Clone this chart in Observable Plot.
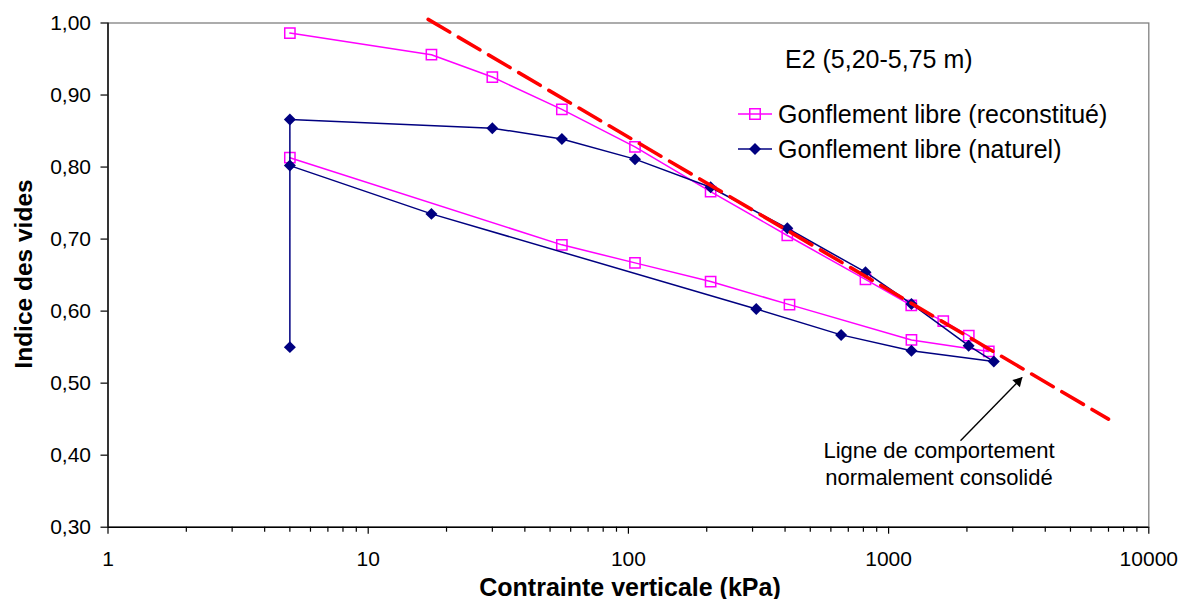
<!DOCTYPE html>
<html><head><meta charset="utf-8">
<script src="https://cdn.jsdelivr.net/npm/d3@7"></script>
<script src="https://cdn.jsdelivr.net/npm/@observablehq/plot@0.6"></script>
<style>html,body{margin:0;padding:0;background:#fff;} svg{display:block}</style>
</head><body><div id="chart"></div>
<script>
// ---- data ----
const reconX = [5, 17.5, 30, 55.5, 106, 207, 408, 815, 1222, 1622, 2033, 2427, 1224, 416, 207, 106, 55.5, 5];
const reconY = [0.986, 0.956, 0.925, 0.880, 0.828, 0.766, 0.705, 0.644, 0.608, 0.586, 0.566, 0.544, 0.560, 0.609, 0.641, 0.667, 0.692, 0.813];
const natX = [5, 5, 30, 55.5, 106, 207, 408, 815, 1224, 2030, 2537, 1224, 657, 310, 17.5, 5];
const natY = [0.550, 0.866, 0.854, 0.839, 0.811, 0.772, 0.715, 0.654, 0.610, 0.552, 0.530, 0.545, 0.567, 0.603, 0.735, 0.802];
const ncX = [17, 7000];
const ncY = [1.005, 0.450];
const arrowX = [1889, 3262];
const arrowY = [0.420, 0.508];
const xTicks = [1, 10, 100, 1000, 10000];
const xMinorTicks = [2,3,4,5,6,7,8,9,20,30,40,50,60,70,80,90,200,300,400,500,600,700,800,900,2000,3000,4000,5000,6000,7000,8000,9000];
const yTicks = [0.30, 0.40, 0.50, 0.60, 0.70, 0.80, 0.90, 1.00];
const seriesNames = ["Gonflement libre (reconstitué)", "Gonflement libre (naturel)"];
const seriesColors = ["#FF00FF", "#000080"];
const sampleLabel = "E2 (5,20-5,75 m)";
const noteLines = ["Ligne de comportement", "normalement consolidé"];
const xTitle = "Contrainte verticale (kPa)";
const yTitle = "Indice des vides";

const recon = reconX.map((x, i) => ({x, y: reconY[i]}));
const nat = natX.map((x, i) => ({x, y: natY[i]}));
const nc = ncX.map((x, i) => ({x, y: ncY[i]}));
const arrow = [{x1: arrowX[0], y1: arrowY[0], x2: arrowX[1], y2: arrowY[1]}];

const font = "'Liberation Sans', Arial, Helvetica, sans-serif";
const W = 1181, H = 599, mL = 107.5, mR = 32.7, mT = 22.5, mB = 72.3;

const chart = Plot.plot({
  width: W, height: H,
  marginLeft: mL, marginRight: mR, marginTop: mT, marginBottom: mB,
  style: {fontFamily: font, fontSize: "21px", background: "#fff", color: "#000", overflow: "visible"},
  x: {type: "log", domain: [1, 10000]},
  y: {domain: [0.30, 1.00]},
  marks: [
    Plot.frame({stroke: "#808080", strokeWidth: 1.3}),
    Plot.axisX(xMinorTicks, {tickSize: 5, tickFormat: () => "", label: null, strokeWidth: 1.2}),
    Plot.axisX(xTicks, {tickSize: 7, tickPadding: 17, tickFormat: d => String(d), label: null, fontSize: 21, strokeWidth: 1.2}),
    Plot.axisY(yTicks, {tickSize: 7, tickPadding: 10, tickFormat: d => d.toFixed(2).replace(".", ","), label: null, fontSize: 21, strokeWidth: 1.2}),
    Plot.ruleX([1], {stroke: "#000", strokeWidth: 1.4}),
    Plot.ruleY([0.30], {stroke: "#000", strokeWidth: 1.4}),
    Plot.line(recon, {x: "x", y: "y", stroke: seriesColors[0], strokeWidth: 1.5}),
    Plot.dot(recon, {x: "x", y: "y", symbol: "square", r: 5.8, stroke: seriesColors[0], strokeWidth: 1.5, fill: "none"}),
    Plot.line(nat, {x: "x", y: "y", stroke: seriesColors[1], strokeWidth: 1.5}),
    Plot.dot(nat, {x: "x", y: "y", symbol: "diamond2", r: 5.4, fill: seriesColors[1], stroke: "none"}),
    Plot.line(nc, {x: "x", y: "y", stroke: "#FF0000", strokeWidth: 3.6, strokeDasharray: "25,10", clip: false}),
    Plot.link(arrow, {x1: "x1", y1: "y1", x2: "x2", y2: "y2", stroke: "#000", strokeWidth: 1.4}),
    Plot.dot(arrow, {x: "x2", y: "y2", symbol: "triangle", r: 3.9, fill: "#000", stroke: "none", rotate: 44, dx: -4, dy: 4.1})
  ]
});
document.getElementById("chart").appendChild(chart);

// ---- legend, annotation and titles (pixel layout) ----
const svg = d3.select(chart);
const g = svg.append("g").attr("font-family", font).attr("fill", "#000").attr("text-anchor", "start");

g.append("text").attr("x", 785).attr("y", 68.3).attr("font-size", 25).attr("text-anchor", "start").text(sampleLabel);

const legendY = [114, 149];
seriesNames.forEach((name, i) => {
  g.append("line").attr("x1", 738).attr("x2", 772).attr("y1", legendY[i]).attr("y2", legendY[i])
    .attr("stroke", seriesColors[i]).attr("stroke-width", 1.5);
  const sym = i === 0 ? d3.symbol(d3.symbolSquare, 110) : d3.symbol(d3.symbolDiamond2, 92);
  g.append("path").attr("d", sym()).attr("transform", `translate(755,${legendY[i]})`)
    .attr("fill", i === 0 ? "none" : seriesColors[i])
    .attr("stroke", i === 0 ? seriesColors[i] : "none").attr("stroke-width", 1.5);
  g.append("text").attr("x", 778).attr("y", legendY[i] + 9).attr("font-size", 25)
    .attr("text-anchor", "start").text(name);
});

noteLines.forEach((line, i) => {
  g.append("text").attr("x", 939).attr("y", 458.3 + i * 27).attr("font-size", 22)
    .attr("text-anchor", "middle").text(line);
});

g.append("text").attr("x", 630).attr("y", 596).attr("font-size", 25).attr("font-weight", "bold")
  .attr("text-anchor", "middle").text(xTitle);
g.append("text").attr("transform", "translate(32,274) rotate(-90)").attr("font-size", 24.5)
  .attr("font-weight", "bold").attr("text-anchor", "middle").text(yTitle);
</script>
</body></html>
